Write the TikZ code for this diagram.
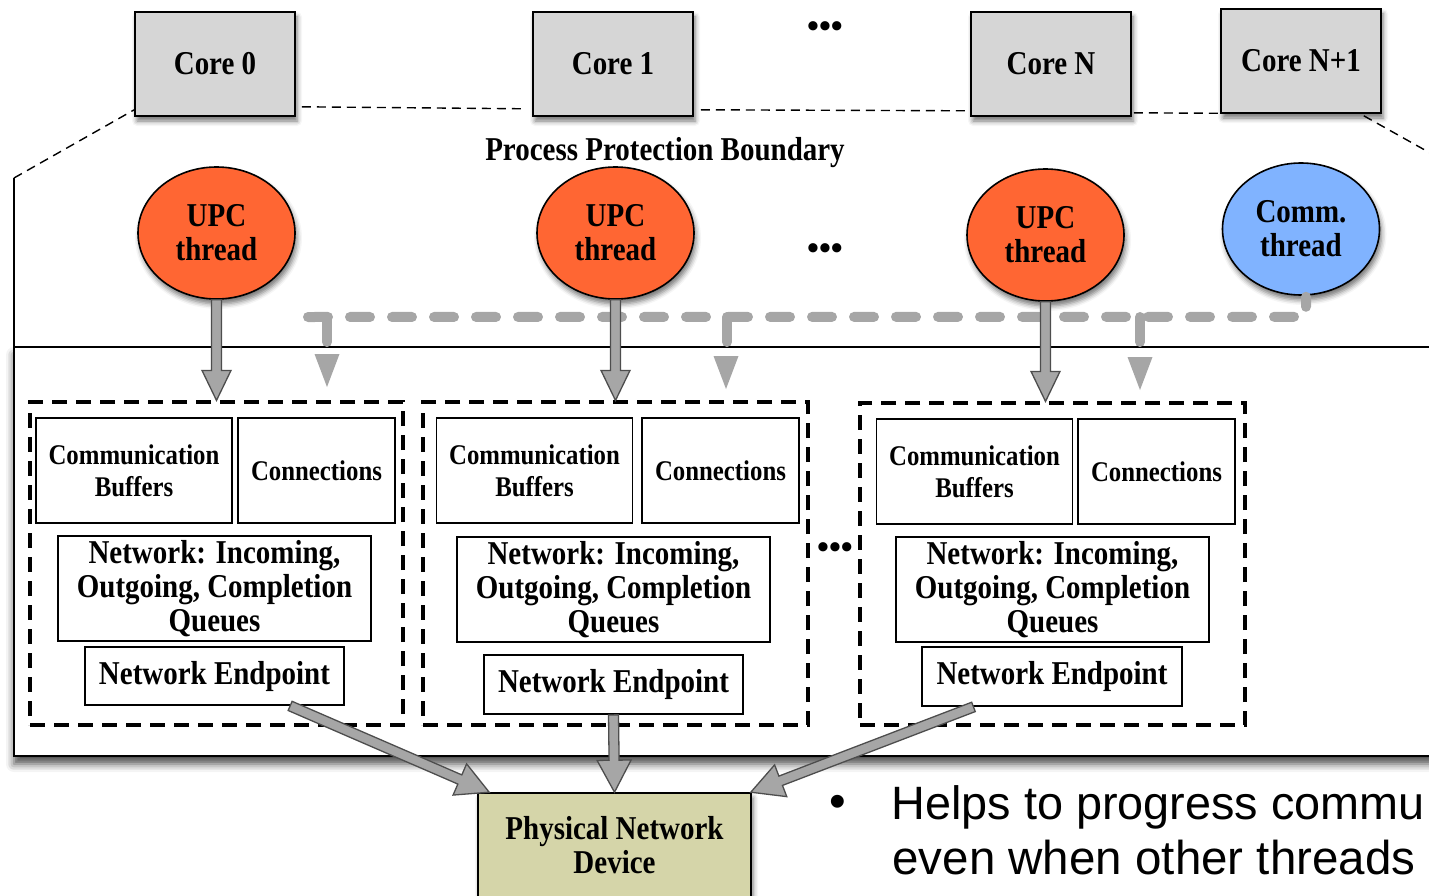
\documentclass[tikz,border=0pt]{standalone}
\usepackage{fontspec}
\setmainfont{Liberation Serif}[FakeStretch=0.87]
\newfontfamily\plainserif{Liberation Serif}
\newfontfamily\bulletfont{Liberation Sans}
\usetikzlibrary{calc,shapes.geometric,shadows.blur}

\definecolor{coregray}{HTML}{D6D6D6}
\definecolor{upcorange}{HTML}{FF6633}
\definecolor{commblue}{HTML}{80B3FF}
\definecolor{arrgray}{HTML}{A6A6A6}
\definecolor{arredge}{HTML}{4D4D4D}
\definecolor{devkhaki}{HTML}{D5D5A9}

\newcommand\txtbig{\fontsize{33.3}{34}\selectfont\bfseries}
\newcommand\txtsmall{\fontsize{28.5}{32}\selectfont\bfseries}

\newcommand\blockarr[4]{%
  \coordinate (bah) at ($(#2)!#3!(#1)$);
  \filldraw[blockarrow] ($(#1)!5pt!90:(#2)$) -- ($(bah)!5pt!90:(#2)$) -- ($(bah)!#4!90:(#2)$) -- (#2) -- ($(bah)!#4!-90:(#2)$) -- ($(bah)!5pt!-90:(#2)$) -- ($(#1)!5pt!-90:(#2)$) -- cycle;}

\tikzset{
  softshadow/.style={blur shadow={shadow xshift=2pt, shadow yshift=-5pt, shadow blur radius=5pt, shadow opacity=55}},
  corebox/.style={draw, line width=1.6pt, fill=coregray, minimum width=160pt, minimum height=104pt, inner sep=0pt, font=\txtbig, softshadow},
  threadnode/.style={ellipse, draw, line width=1.6pt, minimum width=157pt, minimum height=132pt, inner sep=0pt, align=center, font=\txtbig, softshadow},
  partbox/.style={draw, line width=1.8pt, inner sep=0pt, align=center, fill=white},
  groupbox/.style={draw, line width=3.2pt, dash pattern=on 15pt off 9pt, inner sep=0pt},
  boundary/.style={line width=1.4pt, dash pattern=on 9pt off 6pt},
  graybus/.style={draw=arrgray, line width=10pt, line cap=round, dash pattern=on 20pt off 22pt},
  graystub/.style={draw=arrgray, line width=10pt, line cap=round},
  graytip/.style={fill=arrgray},
  blockarrow/.style={fill=arrgray, draw=arredge, line width=1.3pt, line join=miter},
  dotsnode/.style={font=\plainserif\bfseries\fontsize{34}{34}\selectfont, inner sep=0pt},
  bulletstyle/.style={font=\bulletfont\fontsize{47.5}{55}\selectfont}
}

\begin{document}
\begin{tikzpicture}[x=1pt,y=-1pt]
\useasboundingbox (0,0) rectangle (1429,896);
\clip (0,0) rectangle (1429,896);

% lower process box
\draw[line width=1.6pt, fill=white, blur shadow={shadow xshift=0pt, shadow yshift=-8pt, shadow blur radius=8pt, shadow opacity=70}] (14,347) rectangle (1480,756);
\coordinate (b0) at (14,178);
\draw[line width=1.6pt] (b0) -- (14,347);

% cores
\node[corebox] (core0) at (215,64) {Core 0};
\node[corebox] (core1) at (613,64) {Core 1};
\node[corebox] (coreN) at (1051,64) {Core N};
\node[corebox] (coreN1) at (1301,61) {Core N+1};
\node[dotsnode] (dotsTop) at (825,30) {•••};

% protection boundary
\draw[boundary] (b0) -- ($(core0.south west)+(0,-7)$);
\draw[boundary] ($(core0.south east)+(6,-10)$) -- ($(core1.south west)+(-6,-8)$);
\draw[boundary] ($(core1.south east)+(7,-7)$) -- ($(coreN.south west)+(-1,-6)$);
\draw[boundary] ($(coreN.south east)+(2,-4)$) -- ($(coreN1.south west)+(0,-0.5)$);
\draw[boundary] ($(coreN1.south east)+(-18,2)$) -- +(107,60);
\node[font=\txtbig] (ppb) at (665,153) {Process Protection Boundary};

% threads
\node[threadnode, fill=upcorange] (upc0) at (216.5,233) {UPC\\thread};
\node[threadnode, fill=upcorange] (upc1) at (615.5,233) {UPC\\thread};
\node[threadnode, fill=upcorange] (upcN) at (1045.5,235) {UPC\\thread};
\node[threadnode, fill=commblue] (comm) at (1301,229) {Comm.\\thread};
\node[dotsnode] (dotsMid) at (825,252) {•••};

% groups
\node[groupbox, minimum width=373pt, minimum height=323pt] (grp1) at (216.5,563.5) {};
\node[groupbox, minimum width=385pt, minimum height=323pt] (grp2) at (615.5,563.5) {};
\node[groupbox, minimum width=385pt, minimum height=322pt] (grp3) at (1052.5,564) {};
\node[dotsnode] (dotsGrp) at (835,551) {•••};

% group contents
\node[partbox, font=\txtsmall, minimum width=196pt, minimum height=105pt] (cb1) at (134,470.5) {Communication\\Buffers};
\node[partbox, font=\txtsmall, minimum width=157pt, minimum height=105pt] (cn1) at (316.5,470.5) {Connections};
\node[partbox, font=\txtbig, minimum width=313pt, minimum height=105pt] (q1) at (214.5,588.5) {Network: Incoming,\\Outgoing, Completion\\Queues};
\node[partbox, font=\txtbig, minimum width=259pt, minimum height=58pt] (ep1) at (214.5,676) {Network Endpoint};

\node[partbox, font=\txtsmall, minimum width=196pt, minimum height=105pt] (cb2) at (534.5,470.5) {Communication\\Buffers};
\node[partbox, font=\txtsmall, minimum width=157pt, minimum height=105pt] (cn2) at (720.5,470.5) {Connections};
\node[partbox, font=\txtbig, minimum width=313pt, minimum height=105pt] (q2) at (613.5,589.5) {Network: Incoming,\\Outgoing, Completion\\Queues};
\node[partbox, font=\txtbig, minimum width=259pt, minimum height=59pt] (ep2) at (613.5,684.5) {Network Endpoint};

\node[partbox, font=\txtsmall, minimum width=196pt, minimum height=105pt] (cb3) at (974.5,471.5) {Communication\\Buffers};
\node[partbox, font=\txtsmall, minimum width=157pt, minimum height=105pt] (cn3) at (1156.5,471.5) {Connections};
\node[partbox, font=\txtbig, minimum width=313pt, minimum height=105pt] (q3) at (1052.5,589.5) {Network: Incoming,\\Outgoing, Completion\\Queues};
\node[partbox, font=\txtbig, minimum width=260pt, minimum height=59pt] (ep3) at (1052,676.5) {Network Endpoint};

% gray dashed communication bus
\coordinate (busL) at (308,317);
\coordinate (busR) at ($(comm.south)+(5,21)$);
\coordinate (busTop) at ($(comm.south)+(5,1)$);
\draw[graybus] (busL) -- (busR) -- (busTop);
\coordinate (s1a) at (327,317); \coordinate (s1b) at (327,342);
\coordinate (s2a) at (727,317); \coordinate (s2b) at (727,342);
\coordinate (s3a) at (1140,317); \coordinate (s3b) at (1140,342);
\draw[graystub] (s1a) -- (s1b);
\draw[graystub] (s2a) -- (s2b);
\draw[graystub] (s3a) -- (s3b);
\coordinate (t1) at (327,387);
\coordinate (t2) at (726,389);
\coordinate (t3) at (1140,390);
\fill[graytip] (t1) -- ++(-12.5,-33) -- ++(25,0) -- cycle;
\fill[graytip] (t2) -- ++(-12.5,-33) -- ++(25,0) -- cycle;
\fill[graytip] (t3) -- ++(-12.5,-33) -- ++(25,0) -- cycle;

% thread to endpoint arrows
\coordinate (a0) at (upc0.south |- grp1.north);
\coordinate (a1) at (upc1.south |- grp2.north);
\coordinate (a2) at (upcN.south |- grp3.north);
\blockarr{upc0.south}{a0}{30pt}{14.5pt}
\blockarr{upc1.south}{a1}{30pt}{14.5pt}
\blockarr{upcN.south}{a2}{30pt}{14.5pt}

% physical device
\node[draw, line width=1.6pt, fill=devkhaki, minimum width=273pt, minimum height=104pt, align=center, font=\txtbig, softshadow] (dev) at (614.5,845) {Physical Network\\Device};

\coordinate (e1) at ($(ep1.south west)!0.79!(ep1.south east)$);
\coordinate (e2) at (ep2.south);
\coordinate (e3) at ($(ep3.south west)!0.2!(ep3.south east)$);
\coordinate (d1) at ($(dev.north west)+(12,0)$);
\coordinate (d2) at (dev.north);
\coordinate (d3) at ($(dev.north east)+(-1,0)$);
\blockarr{e1}{d1}{32pt}{17pt}
\blockarr{e2}{d2}{32pt}{17pt}
\blockarr{e3}{d3}{32pt}{17pt}

% bullet text
\node[bulletstyle] (bul) at (838,806) {•};
\node[anchor=base west, font=\bulletfont\fontsize{46.8}{55}\selectfont] (line1) at (888,819) {Helps to progress commu};
\node[anchor=base west, bulletstyle] (line2) at (889,874) {even when other threads};
\end{tikzpicture}
\end{document}
